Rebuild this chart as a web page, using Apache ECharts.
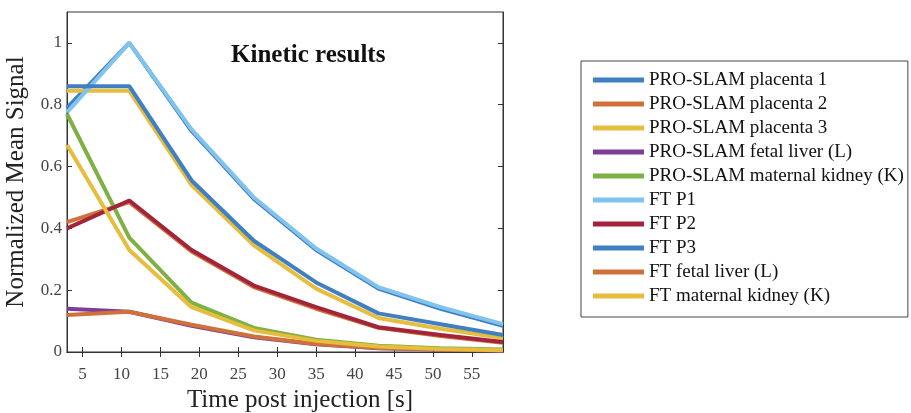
<!DOCTYPE html>
<html>
<head>
<meta charset="utf-8">
<script src="https://cdn.jsdelivr.net/npm/echarts@6/dist/echarts.min.js"></script>
<style>
html,body{margin:0;padding:0;background:#fff;}
#chart{width:911px;height:413px;}
</style>
</head>
<body>
<div id="chart"></div>
<script>
// ---- data ----
var timeS = [3, 11, 19, 27, 35, 43, 51, 59];
var xTicks = [5, 10, 15, 20, 25, 30, 35, 40, 45, 50, 55];
var yTicks = [0, 0.2, 0.4, 0.6, 0.8, 1];

var seriesNames = [
  'PRO-SLAM placenta 1', 'PRO-SLAM placenta 2', 'PRO-SLAM placenta 3',
  'PRO-SLAM fetal liver (L)', 'PRO-SLAM maternal kidney (K)',
  'FT P1', 'FT P2', 'FT P3', 'FT fetal liver (L)', 'FT maternal kidney (K)'
];
var proPlacenta1  = [0.79, 1.0, 0.715, 0.495, 0.33, 0.205, 0.14, 0.085];
var proPlacenta2  = [0.42, 0.485, 0.325, 0.21, 0.14, 0.078, 0.052, 0.03];
var proPlacenta3  = [0.845, 0.845, 0.54, 0.345, 0.205, 0.11, 0.075, 0.045];
var proFetalLiver = [0.14, 0.13, 0.085, 0.048, 0.025, 0.012, 0.008, 0.005];
var proKidney     = [0.77, 0.37, 0.16, 0.078, 0.04, 0.02, 0.012, 0.008];
var ftP1          = [0.775, 1.0, 0.72, 0.5, 0.335, 0.21, 0.145, 0.09];
var ftP2          = [0.40, 0.49, 0.33, 0.215, 0.145, 0.08, 0.055, 0.032];
var ftP3          = [0.86, 0.86, 0.555, 0.36, 0.225, 0.125, 0.09, 0.055];
var ftFetalLiver  = [0.12, 0.13, 0.088, 0.05, 0.026, 0.013, 0.008, 0.005];
var ftKidney      = [0.67, 0.33, 0.145, 0.07, 0.036, 0.018, 0.01, 0.006];

var allValues = [proPlacenta1, proPlacenta2, proPlacenta3, proFetalLiver, proKidney,
                 ftP1, ftP2, ftP3, ftFetalLiver, ftKidney];
var colors = ['#3f7fc2', '#d0703a', '#e6bd3c', '#7d3f95', '#7fb043',
              '#80c4ee', '#a3243a', '#3f7fc2', '#d0703a', '#e6bd3c'];

var FONT = '"Liberation Serif", "DejaVu Serif", serif';

var series = seriesNames.map(function (name, i) {
  return {
    name: name,
    type: 'line',
    xAxisIndex: 0,
    yAxisIndex: 0,
    data: timeS.map(function (t, k) { return [t, allValues[i][k]]; }),
    symbol: 'none',
    lineStyle: { width: 4, color: colors[i] },
    itemStyle: { color: colors[i] },
    emphasis: { disabled: true },
    animation: false
  };
});

var chart = echarts.init(document.getElementById('chart'), null, { renderer: 'canvas' });
chart.setOption({
  backgroundColor: '#ffffff',
  animation: false,
  title: {
    text: 'Kinetic results',
    left: 226, top: 38,
    textStyle: { fontFamily: FONT, fontSize: 25, fontWeight: 'bold', color: '#111' }
  },
  grid: { left: 67, right: 408, top: 12, bottom: 61, show: true,
          outerBoundsMode: 'none', containLabel: false,
          borderColor: '#333', borderWidth: 1, backgroundColor: '#fff' },
  legend: {
    data: seriesNames,
    orient: 'vertical',
    left: 581, top: 61,
    padding: [9, 4, 11, 12],
    itemGap: 4,
    itemWidth: 51, itemHeight: 5,
    icon: 'rect',
    borderColor: '#444', borderWidth: 1,
    backgroundColor: '#fff',
    selectedMode: false,
    textStyle: { fontFamily: FONT, fontSize: 19, lineHeight: 20, color: '#111' }
  },
  xAxis: [{
    type: 'value', min: 3, max: 59,
    name: 'Time post injection [s]',
    nameLocation: 'middle', nameGap: 36,
    nameTextStyle: { fontFamily: FONT, fontSize: 25, color: '#222', padding: [0, 0, 0, 30] },
    axisLine: { show: true, lineStyle: { color: '#333', width: 1 } },
    axisTick: { show: true, inside: true, length: 5, customValues: xTicks, lineStyle: { color: '#333' } },
    axisLabel: { customValues: xTicks, margin: 14, fontFamily: FONT, fontSize: 17, color: '#444' },
    splitLine: { show: false }
  }, {
    type: 'value', min: 3, max: 59, position: 'top',
    axisLine: { show: true, lineStyle: { color: '#333', width: 1 } },
    axisTick: { show: true, inside: true, length: 5, customValues: xTicks, lineStyle: { color: '#333' } },
    axisLabel: { show: false },
    splitLine: { show: false }
  }],
  yAxis: [{
    type: 'value', min: 0, max: 1.1,
    name: 'Normalized Mean Signal',
    nameLocation: 'middle', nameGap: 38,
    nameTextStyle: { fontFamily: FONT, fontSize: 25, color: '#222' },
    axisLine: { show: true, lineStyle: { color: '#333', width: 1 } },
    axisTick: { show: true, inside: true, length: 5, customValues: yTicks, lineStyle: { color: '#333' } },
    axisLabel: { customValues: yTicks, margin: 5, fontFamily: FONT, fontSize: 17, color: '#444',
                 padding: [6, 0, 0, 0],
                 formatter: function (v) { return String(Math.round(v * 10) / 10); } },
    splitLine: { show: false }
  }, {
    type: 'value', min: 0, max: 1.1, position: 'right',
    axisLine: { show: true, lineStyle: { color: '#333', width: 1 } },
    axisTick: { show: true, inside: true, length: 5, customValues: yTicks, lineStyle: { color: '#333' } },
    axisLabel: { show: false },
    splitLine: { show: false }
  }],
  series: series
});
</script>
</body>
</html>
